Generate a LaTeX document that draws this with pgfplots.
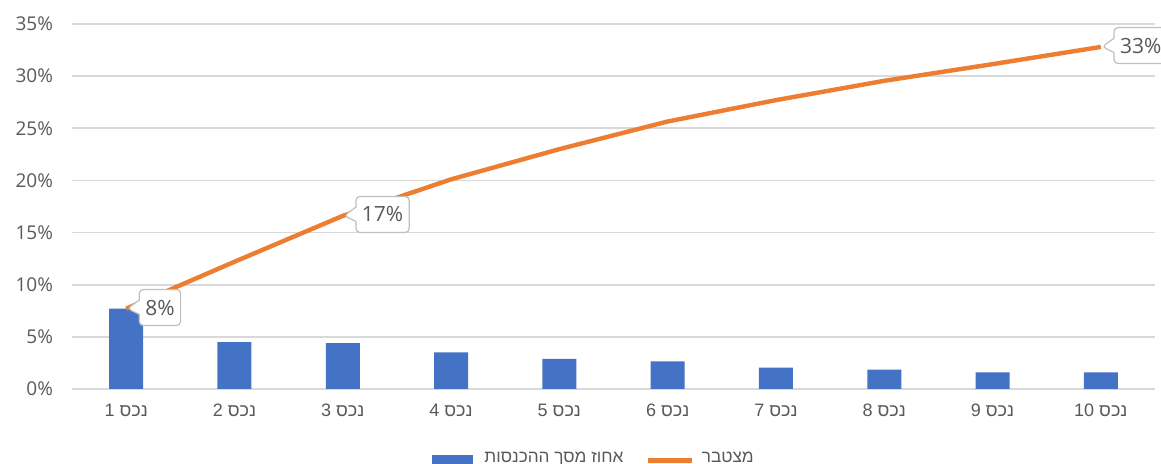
\documentclass[border=0pt]{standalone}
\usepackage{fontspec}
\setmainfont{Open Sans}
\newfontfamily\heb[Script=Hebrew]{Liberation Sans}
\TeXXeTstate=1
\usepackage{pgfplots}
\pgfplotsset{compat=1.18}
\usetikzlibrary{shapes.callouts}
\definecolor{barblue}{HTML}{4472C4}
\definecolor{lineorange}{HTML}{ED7D31}
\definecolor{txtgray}{HTML}{595959}
\definecolor{gridgray}{HTML}{D9D9D9}
\definecolor{boxgray}{HTML}{BFBFBF}
\newcommand\nk[1]{{\heb #1 \beginR נכס\endR}}
\begin{document}
\begin{tikzpicture}
\begin{axis}[name=ax, scale only axis, width=541.5pt, height=182.5pt,
  xmin=0.5, xmax=10.5, ymin=0, ymax=35, clip=false,
  xtick={1,2,3,4,5,6,7,8,9,10},
  xticklabels={\nk{1},\nk{2},\nk{3},\nk{4},\nk{5},\nk{6},\nk{7},\nk{8},\nk{9},\nk{10}},
  ytick={0,5,10,15,20,25,30,35},
  yticklabel={\pgfmathprintnumber{\tick}\%},
  /pgf/number format/assume math mode=true,
  ymajorgrids, major grid style={gridgray, line width=0.8pt},
  axis line style={draw=none}, tick style={draw=none},
  xticklabel style={font=\fontsize{9}{10}\selectfont, text=txtgray, yshift=-4pt},
  yticklabel style={font=\fontsize{9.5}{11}\selectfont, text=txtgray, xshift=-6pt},
  legend style={at={(0.483,-0.19)}, anchor=center, draw=none, fill=none,
    legend columns=2, font=\heb\fontsize{8.6}{10}\selectfont, text=txtgray,
    /tikz/every even column/.append style={column sep=9pt}},
  legend cell align=left,
]
\addplot[ybar, bar width=17pt, fill=barblue, draw=none,
  legend image code/.code={\fill[barblue] (0pt,-5pt) rectangle (20.5pt,1.5pt); \path (24pt,0pt);}]
  coordinates {(1,7.7) (2,4.5) (3,4.4) (4,3.5) (5,2.9) (6,2.65) (7,2.05) (8,1.85) (9,1.6) (10,1.6)};
\addlegendentry{\beginR אחוז מסך ההכנסות\endR}
\addplot[lineorange, line width=2.2pt, mark=none,
  legend image code/.code={\draw[lineorange, line width=2.2pt] (0pt,-1pt) -- (22pt,-1pt); \path (24pt,0pt);}]
  coordinates {(1,7.7) (2,12.2) (3,16.6) (4,20.1) (5,23.0) (6,25.65) (7,27.7) (8,29.55) (9,31.15) (10,32.8)};
\addlegendentry{\beginR מצטבר\endR}
\addplot[draw=none, mark=none, forget plot, point meta=explicit symbolic,
  nodes near coords,
  every node near coord/.append style={rectangle callout, callout relative pointer={(-6pt,-0.2pt)},
    anchor=pointer, draw=boxgray, fill=white, text=txtgray, line width=0.6pt,
    font=\fontsize{10.5}{12}\selectfont, inner xsep=3pt, minimum height=18pt, rounded corners=2pt}]
  coordinates {(1,7.7) [8\%] (3,16.6) [17\%] (10,32.8) [33\%]};
\end{axis}
\pgfresetboundingbox
\path[use as bounding box] ([shift={(-36pt,-37.5pt)}]ax.south west) rectangle ([shift={(544.5pt,194.5pt)}]ax.south west);
\end{tikzpicture}
\end{document}
